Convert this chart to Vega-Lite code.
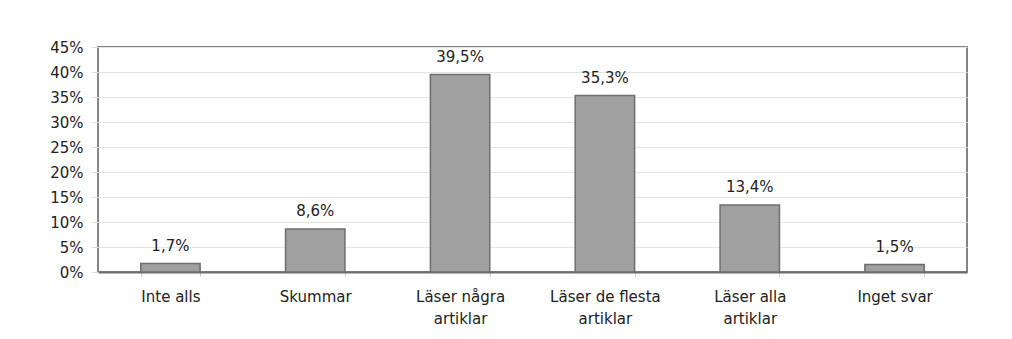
{
  "$schema": "https://vega.github.io/schema/vega-lite/v6.json",
  "width": 869,
  "height": 225,
  "autosize": {"type": "none"},
  "padding": {"left": 98, "top": 47, "right": 45, "bottom": 67},
  "background": "white",
  "config": {
    "locale": {"number": {"decimal": ",", "thousands": " ", "grouping": [3], "currency": ["", " kr"]}},
    "view": {"stroke": "#858585", "strokeWidth": 2},
    "font": "DejaVu Sans"
  },
  "data": {
    "values": [
      {"kategori": "Inte alls", "andel": 0.017},
      {"kategori": "Skummar", "andel": 0.086},
      {"kategori": "Läser några\nartiklar", "andel": 0.395},
      {"kategori": "Läser de flesta\nartiklar", "andel": 0.353},
      {"kategori": "Läser alla\nartiklar", "andel": 0.134},
      {"kategori": "Inget svar", "andel": 0.015}
    ]
  },
  "encoding": {
    "x": {
      "field": "kategori",
      "type": "nominal",
      "sort": null,
      "scale": {"paddingInner": 0.59, "paddingOuter": 0.295},
      "axis": {
        "title": null,
        "labelAngle": 0,
        "labelExpr": "isValid(datum.value) ? split(datum.value, '\\n') : ''",
        "labelFontSize": 15,
        "labelColor": "#222222",
        "labelLineHeight": 22,
        "labelPadding": 13,
        "tickBand": "extent",
        "tickColor": "#cccccc",
        "tickSize": 4,
        "domainColor": "#6e6e6e",
        "domainWidth": 2
      }
    },
    "y": {
      "field": "andel",
      "type": "quantitative",
      "scale": {"domain": [0, 0.45], "nice": false},
      "axis": {
        "title": null,
        "format": ".0%",
        "values": [0, 0.05, 0.1, 0.15, 0.2, 0.25, 0.3, 0.35, 0.4, 0.45],
        "labelFontSize": 15,
        "labelColor": "#222222",
        "labelPadding": 8,
        "tickColor": "#dddddd",
        "tickSize": 7,
        "gridColor": "#e4e4e4",
        "domain": false
      }
    }
  },
  "layer": [
    {"mark": {"type": "bar", "fill": "#a0a0a0", "stroke": "#6e6e6e", "strokeWidth": 1.5}},
    {
      "mark": {"type": "text", "baseline": "alphabetic", "dy": -13, "fontSize": 15, "color": "#222222"},
      "encoding": {"text": {"field": "andel", "type": "quantitative", "format": ".1%"}}
    }
  ]
}
